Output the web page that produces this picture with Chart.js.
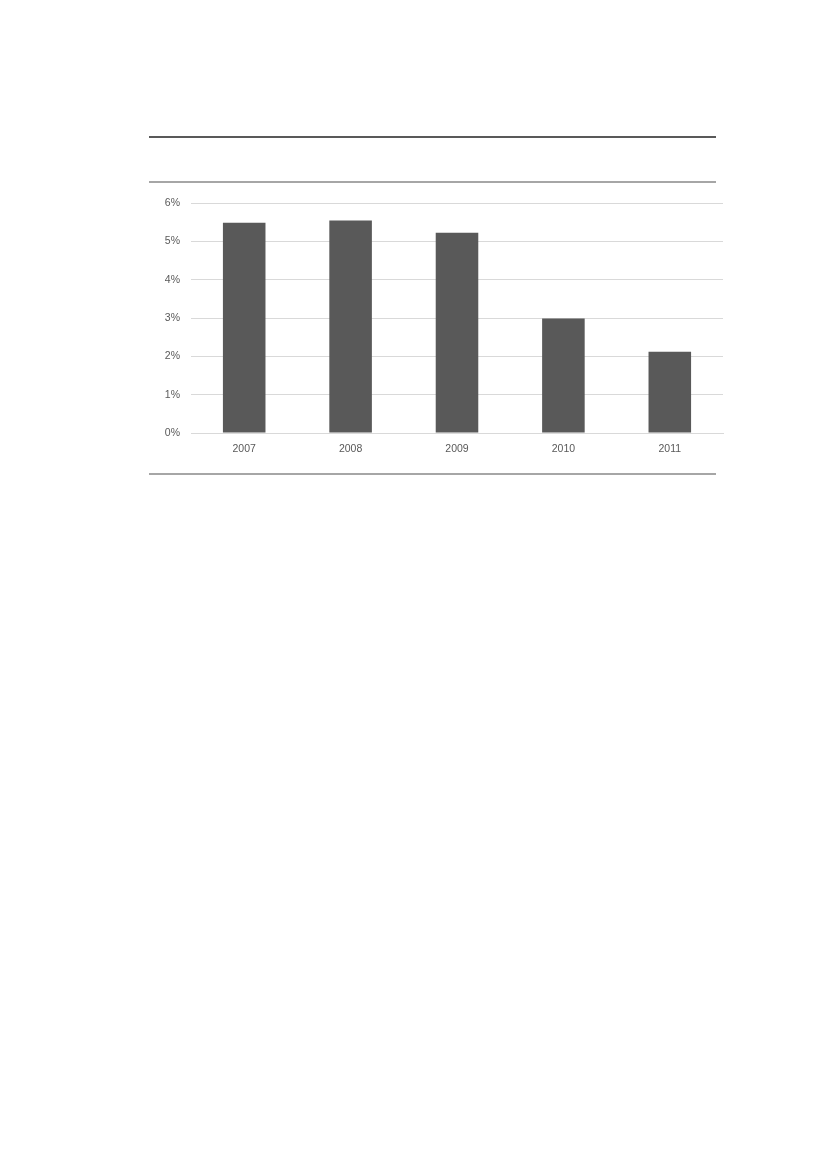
<!DOCTYPE html>
<html>
<head>
<meta charset="utf-8">
<script src="https://cdn.jsdelivr.net/npm/chart.js@4"></script>
<style>
    body { margin: 0; background: #ffffff; width: 826px; height: 1169px; position: relative; }
    .rule { position: absolute; left: 149px; width: 567px; }
    #wrap { position: absolute; left: 150px; top: 186px; width: 580px; height: 284px; }
</style>
</head>
<body>
<div class="rule" style="top:136px; height:1.5px; background:#595959;"></div>
<div class="rule" style="top:181px; height:1.5px; background:#a6a6a6;"></div>
<div class="rule" style="top:473px; height:2px; background:#a6a6a6;"></div>
<div id="wrap"><canvas id="rateChart"></canvas></div>
<script>
const years = ['2007', '2008', '2009', '2010', '2011'];
const rates = [5.49, 5.55, 5.23, 2.99, 2.12];
const yTicks = [0, 1, 2, 3, 4, 5, 6];

const ctx = document.getElementById('rateChart').getContext('2d');
const rateChart = new Chart(ctx, {
    type: 'bar',
    data: {
        labels: years,
        datasets: [{
            data: rates,
            backgroundColor: '#595959',
            borderWidth: 0,
            categoryPercentage: 1,
            barPercentage: 0.4
        }]
    },
    options: {
        responsive: true,
        maintainAspectRatio: false,
        animation: false,
        layout: { padding: { left: 0, right: 7, top: 9, bottom: 0 } },
        scales: {
            y: {
                min: 0,
                max: 6,
                afterBuildTicks: (scale) => { scale.ticks = yTicks.map(v => ({ value: v })); },
                afterFit: (scale) => { scale.width = 41; },
                ticks: {
                    color: '#595959',
                    font: { family: 'Liberation Sans', size: 10.5 },
                    padding: 11,
                    callback: (v) => v + '%'
                },
                grid: { color: '#d9d9d9', drawTicks: false },
                border: { display: false }
            },
            x: {
                afterFit: (scale) => { scale.height = 37; },
                ticks: {
                    color: '#595959',
                    font: { family: 'Liberation Sans', size: 10.5 },
                    padding: 10
                },
                grid: { display: false, drawTicks: false },
                border: { color: '#d9d9d9', width: 1 }
            }
        },
        plugins: {
            legend: { display: false },
            tooltip: { enabled: false }
        }
    }
});
</script>
</body>
</html>
